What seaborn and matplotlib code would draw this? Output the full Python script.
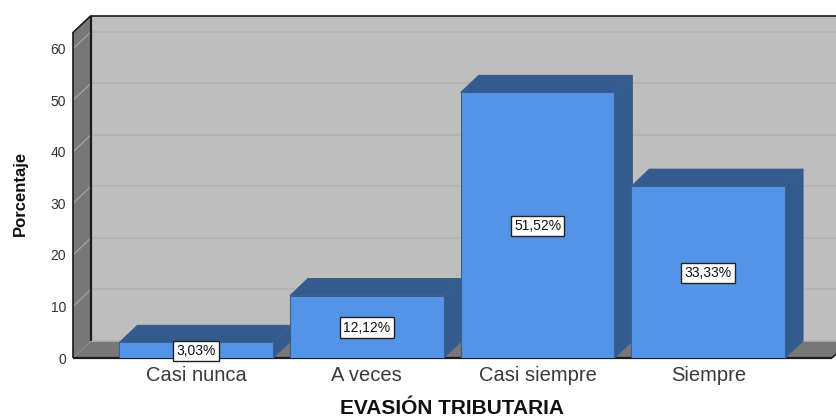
import matplotlib
matplotlib.use("Agg")
import matplotlib.pyplot as plt
from matplotlib.colors import to_rgb
from matplotlib.patches import Polygon
import seaborn as sns

categories = ["Casi nunca", "A veces", "Casi siempre", "Siempre"]
values = [3.03, 12.12, 51.52, 33.33]
labels = ["3,03%", "12,12%", "51,52%", "33,33%"]
yticks = [0, 10, 20, 30, 40, 50, 60]

W, H = 837, 417
sns.set_theme(style="white")
plt.rcParams["font.family"] = ["Liberation Sans", "DejaVu Sans"]

fig = plt.figure(figsize=(W / 100, H / 100), dpi=100)
L, R, T, B = 73, 832, 32.5, 358
ax = fig.add_axes([L / W, 1 - B / H, (R - L) / W, (B - T) / H])

FRONT, SIDE, EDGE = "#5394E6", "#335B8E", "#3A5F90"
sns.barplot(x=categories, y=values, color=FRONT, saturation=1, width=0.9,
            edgecolor=EDGE, linewidth=0.8, ax=ax, zorder=5)

step = 170.67
x0 = -0.5 + (L - (196.2 - step / 2)) / step
x1 = x0 + (R - L) / step
y1 = (B - T) / 5.155
ax.set_xlim(x0, x1)
ax.set_ylim(0, y1)
dx, dy = 18 / step, 17 / 5.155


def poly(pts, fc, ec="none", lw=0, z=1):
    ax.add_patch(Polygon(pts, closed=True, facecolor=fc, edgecolor=ec, linewidth=lw,
                         zorder=z, clip_on=False))


# chamber: back wall, left wall, floor
poly([(x0 + dx, dy), (x1 + dx, dy), (x1 + dx, y1 + dy), (x0 + dx, y1 + dy)], "#BEBEBE")
poly([(x0, 0), (x0 + dx, dy), (x0 + dx, y1 + dy), (x0, y1)], "#777777")
poly([(x0, 0), (x1, 0), (x1 + dx, dy), (x0 + dx, dy)], "#777777")

for t in yticks:
    ax.plot([x0 + dx, x1 + dx], [t + dy, t + dy], color="#B3B3B3", lw=1.2, zorder=2, clip_on=False)
    if t > 0:
        ax.plot([x0, x0 + dx], [t, t + dy], color="#A4A4A4", lw=0.9, zorder=2, clip_on=False)

ln = dict(color="#1C1C1C", zorder=3, clip_on=False, solid_capstyle="butt")
ax.plot([x0 + dx, x0 + dx], [dy, y1 + dy], lw=1.6, **ln)
ax.plot([x0 + dx, x1 + dx], [y1 + dy, y1 + dy], lw=1.2, **ln)
ax.plot([x0, x0 + dx], [y1, y1 + dy], lw=1.2, **ln)
ax.plot([x0, x0], [0, y1], lw=1.2, **ln)
ax.plot([x0, x1], [0, 0], lw=1.6, **ln)
ax.plot([x1, x1 + dx], [0, dy], lw=1.2, **ln)

# bar depth faces, built from the seaborn bars
bars = [b for b in ax.patches if b.get_facecolor()[:3] == to_rgb(FRONT)]
for i, bar in enumerate(bars):
    xa, w, h = bar.get_x(), bar.get_width(), bar.get_height()
    xb = xa + w
    z = 4 + i * 0.01
    poly([(xa, h), (xb, h), (xb + dx, h + dy), (xa + dx, h + dy)], SIDE, EDGE, 0.8, z)
    poly([(xb, 0), (xb + dx, dy), (xb + dx, h + dy), (xb, h)], SIDE, EDGE, 0.8, z)
    bar.set_zorder(z + 0.005)
    ax.annotate(labels[i], (xa + w / 2, h / 2), xytext=(0, -0.6), textcoords="offset points",
                ha="center", va="center", fontsize=10, color="#111111", zorder=6,
                bbox=dict(boxstyle="square,pad=0.24", facecolor="white", edgecolor="#222222", linewidth=1.0))

ax.patch.set_visible(False)
for s in ax.spines.values():
    s.set_visible(False)
ax.set_yticks(yticks)
ax.set_yticklabels([str(t) for t in yticks], fontsize=10, color="#333333")
ax.tick_params(axis="y", length=0, pad=5)
ax.tick_params(axis="x", length=0, pad=6, labelsize=14.5, labelcolor="#3A3A3A")
ax.set_xlabel("")
ax.set_ylabel("")
fig.text(20 / W, 1 - 193 / H, "Porcentaje", rotation=90, ha="center", va="center",
         fontsize=12, fontweight="bold", color="#111111")
fig.text(452 / W, 1 - 408.5 / H, "EVASIÓN TRIBUTARIA", ha="center", va="center",
         fontsize=15, fontweight="bold", color="#111111")
fig.savefig("out.png", dpi=100, facecolor="white")
